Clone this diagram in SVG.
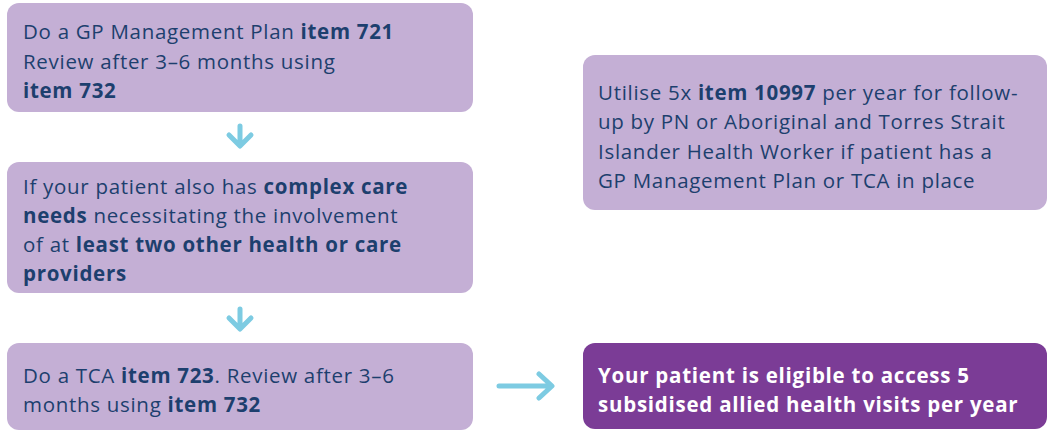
<svg xmlns="http://www.w3.org/2000/svg" width="1048" height="439" viewBox="0 0 1048 439">
  <defs>
    <style>
      .box { fill: #c4afd5; }
      .box-dark { fill: #7b3c96; }
      .txt { font-family: "Open Sans", "Liberation Sans", sans-serif; font-size: 20.5px; letter-spacing: 0.7px; fill: #1d3f6e; }
      .txt-light { font-family: "Open Sans", "Liberation Sans", sans-serif; font-size: 20.5px; letter-spacing: 0.75px; fill: #ffffff; font-weight: 700; }
      .b { font-weight: 700; }
      .arrow { fill: none; stroke: #7dcbe2; stroke-width: 5; stroke-linecap: round; stroke-linejoin: round; }
    </style>
  </defs>

  <!-- step 1: GP Management Plan -->
  <g id="node-gpmp">
    <rect class="box" x="7" y="3" width="466" height="109" rx="12"/>
    <text class="txt" x="23" y="39">Do a GP Management Plan <tspan class="b">item 721</tspan></text>
    <text class="txt" x="23" y="69">Review after 3–6 months using</text>
    <text class="txt b" x="23" y="98">item 732</text>
  </g>

  <!-- step 2: complex care needs -->
  <g id="node-complex">
    <rect class="box" x="7" y="162" width="466" height="131" rx="12"/>
    <text class="txt" x="23" y="194">If your patient also has <tspan class="b">complex care</tspan></text>
    <text class="txt" x="23" y="223"><tspan class="b">needs</tspan> necessitating the involvement</text>
    <text class="txt" x="23" y="252">of at <tspan class="b">least two other health or care</tspan></text>
    <text class="txt b" x="23" y="281">providers</text>
  </g>

  <!-- step 3: Team Care Arrangement -->
  <g id="node-tca">
    <rect class="box" x="7" y="343" width="466" height="87" rx="12"/>
    <text class="txt" x="23" y="383">Do a TCA <tspan class="b">item 723</tspan>. Review after 3–6</text>
    <text class="txt" x="23" y="412">months using <tspan class="b">item 732</tspan></text>
  </g>

  <!-- follow-up services -->
  <g id="node-followup">
    <rect class="box" x="583" y="55" width="464" height="155" rx="12"/>
    <text class="txt" x="598" y="100">Utilise 5x <tspan class="b">item 10997</tspan> per year for follow-</text>
    <text class="txt" x="598" y="129">up by PN or Aboriginal and Torres Strait</text>
    <text class="txt" x="598" y="159">Islander Health Worker if patient has a</text>
    <text class="txt" x="598" y="188">GP Management Plan or TCA in place</text>
  </g>

  <!-- outcome -->
  <g id="node-outcome">
    <rect class="box-dark" x="583" y="343" width="464" height="86" rx="12"/>
    <text class="txt-light" x="598" y="383">Your patient is eligible to access 5</text>
    <text class="txt-light" x="598" y="412">subsidised allied health visits per year</text>
  </g>

  <!-- connectors -->
  <g id="connectors">
    <path class="arrow" d="M240 126 V145 M229 135 L240 146 L251 135"/>
    <path class="arrow" d="M240 309 V328 M229 318 L240 329 L251 318"/>
    <path class="arrow" d="M499 386 H551 M539 374 L552 386 L539 398"/>
  </g>
</svg>
